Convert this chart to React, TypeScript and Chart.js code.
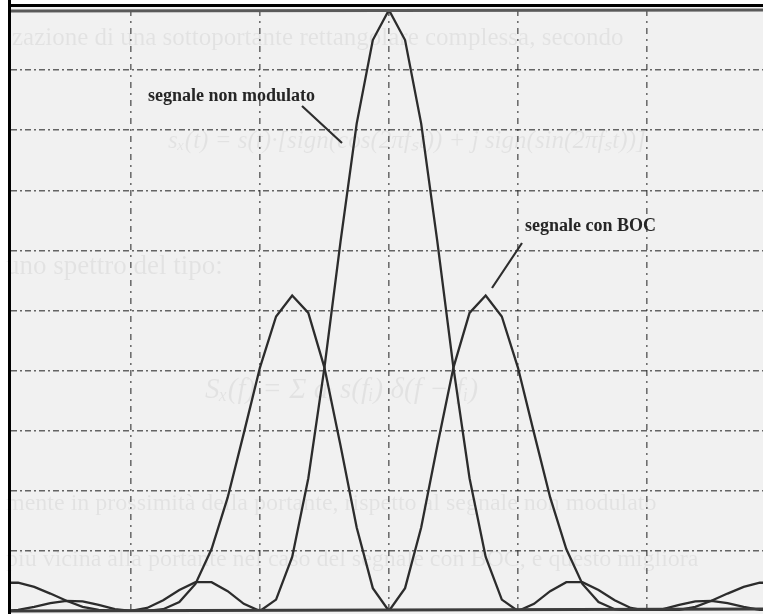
import React, { useEffect, useRef } from "react";
import { Chart, registerables } from "chart.js";

Chart.register(...registerables);

// Frequency offset (in units of the chip rate, one grid division per unit)
const freq = [
  -3, -2.875, -2.75, -2.625, -2.5, -2.375, -2.25, -2.125, -2, -1.875, -1.75, -1.625, -1.5,
  -1.375, -1.25, -1.125, -1, -0.875, -0.75, -0.625, -0.5, -0.375, -0.25, -0.125, 0,
  0.125, 0.25, 0.375, 0.5, 0.625, 0.75, 0.875, 1, 1.125, 1.25, 1.375, 1.5, 1.625, 1.75,
  1.875, 2, 2.125, 2.25, 2.375, 2.5, 2.625, 2.75, 2.875, 3,
];

// "segnale non modulato" spectrum (grid divisions)
const nonModulato = [
  0, 0.02, 0.07, 0.13, 0.17, 0.16, 0.1, 0.03, 0, 0.05, 0.18, 0.35, 0.48,
  0.48, 0.33, 0.12, 0, 0.19, 0.9, 2.21, 4.05, 6.15, 8.11, 9.5, 10,
  9.5, 8.11, 6.15, 4.05, 2.21, 0.9, 0.19, 0, 0.12, 0.33, 0.48, 0.48, 0.35, 0.18,
  0.05, 0, 0.03, 0.1, 0.16, 0.17, 0.13, 0.07, 0.02, 0,
];

// "segnale con BOC" spectrum (grid divisions)
const conBOC = [
  0.47, 0.47, 0.4, 0.29, 0.17, 0.07, 0.02, 0, 0, 0, 0.03, 0.15, 0.45,
  1.03, 1.89, 2.96, 4.05, 4.9, 5.25, 4.96, 4.05, 2.75, 1.39, 0.38, 0,
  0.38, 1.39, 2.75, 4.05, 4.96, 5.25, 4.9, 4.05, 2.96, 1.89, 1.03, 0.45, 0.15, 0.03,
  0, 0, 0, 0.02, 0.07, 0.17, 0.29, 0.4, 0.47, 0.47,
];

const labelNonModulato = "segnale non modulato";
const labelBOC = "segnale con BOC";

// faint bleed-through text of the scanned page
const bgLines = [
  { text: "zazione di una sottoportante rettangolare complessa, secondo", x: 12, y: 45, size: 25, italic: false },
  { text: "s\u2093(t) = s(t)\u00b7[sign(cos(2\u03c0f\u209bt)) + j sign(sin(2\u03c0f\u209bt))]", x: 168, y: 148, size: 25, italic: true },
  { text: "uno spettro del tipo:", x: 6, y: 274, size: 27, italic: false },
  { text: "S\u2093(f) = \u03a3 a\u1d62 s(f\u1d62) \u03b4(f \u2212 f\u1d62)", x: 205, y: 398, size: 29, italic: true },
  { text: "mente in prossimit\u00e0 della portante, rispetto al segnale non modulato", x: 6, y: 510, size: 24, italic: false },
  { text: "pi\u00f9 vicina alla portante nel caso del segnale con BOC, e questo migliora", x: 6, y: 566, size: 24, italic: false },
];

const scanPlugin = {
  id: "scan",
  beforeDraw(chart: any) {
    const ctx = chart.ctx as CanvasRenderingContext2D;
    const w = chart.width;
    const h = chart.height;
    ctx.save();
    ctx.fillStyle = "#ffffff";
    ctx.fillRect(0, 0, w, h);
    ctx.fillStyle = "#f1f1f1";
    ctx.fillRect(11, 7, w - 11, h - 7);
    ctx.fillStyle = "rgba(0,0,0,0.06)";
    bgLines.forEach((l) => {
      ctx.font = `${l.italic ? "italic " : ""}${l.size}px "Liberation Serif", serif`;
      ctx.fillText(l.text, l.x, l.y);
    });
    ctx.restore();
  },
  afterDraw(chart: any) {
    const ctx = chart.ctx as CanvasRenderingContext2D;
    const { left, right, top, bottom } = chart.chartArea;
    const w = chart.width;
    const h = chart.height;
    ctx.save();
    // chart frame top and baseline
    ctx.strokeStyle = "#5a5a5a";
    ctx.lineWidth = 3;
    ctx.beginPath();
    ctx.moveTo(left, top + 1);
    ctx.lineTo(right, top);
    ctx.stroke();
    ctx.strokeStyle = "#3c3c3c";
    ctx.beginPath();
    ctx.moveTo(left, bottom);
    ctx.lineTo(right, bottom - 2);
    ctx.stroke();
    // scan border (black)
    ctx.fillStyle = "#000";
    ctx.fillRect(8, 0, 3, h);
    ctx.fillRect(8, 4, w - 8, 3);

    // annotations
    ctx.fillStyle = "#262626";
    ctx.font = 'bold 18px "Liberation Serif", serif';
    ctx.textBaseline = "alphabetic";
    ctx.fillText(labelNonModulato, 148, 101);
    ctx.fillText(labelBOC, 525, 231);
    ctx.strokeStyle = "#2e2e2e";
    ctx.lineWidth = 2.2;
    ctx.beginPath();
    ctx.moveTo(302, 106);
    ctx.lineTo(342, 143);
    ctx.moveTo(522, 243);
    ctx.lineTo(492, 288);
    ctx.stroke();
    ctx.restore();
  },
};

const gridColor = (c: any) => {
  const v = c.tick ? c.tick.value : null;
  if (c.scale.axis === "y" && (v === 0 || v === 10)) return "rgba(0,0,0,0)";
  return c.scale.axis === "y" ? "rgba(40,40,40,0.7)" : "rgba(40,40,40,0.65)";
};

export default function App() {
  const ref = useRef<HTMLCanvasElement | null>(null);
  useEffect(() => {
    if (!ref.current) return;
    const chart = new Chart(ref.current, {
      type: "line",
      data: {
        datasets: [
          {
            label: labelNonModulato,
            data: freq.map((f, i) => ({ x: f, y: nonModulato[i] })),
            borderColor: "#2c2c2c",
            borderWidth: 2.3,
            pointRadius: 0,
            tension: 0,
            fill: false,
          },
          {
            label: labelBOC,
            data: freq.map((f, i) => ({ x: f, y: conBOC[i] })),
            borderColor: "#2c2c2c",
            borderWidth: 2.3,
            pointRadius: 0,
            tension: 0,
            fill: false,
          },
        ],
      },
      options: {
        responsive: false,
        devicePixelRatio: 1,
        animation: false,
        layout: { padding: { left: 11, top: 10, right: 0, bottom: 3 } },
        plugins: { legend: { display: false }, tooltip: { enabled: false } },
        scales: {
          x: {
            type: "linear",
            min: -2.93,
            max: 2.9,
            ticks: { display: false, stepSize: 1, includeBounds: false },
            grid: { color: gridColor, lineWidth: 1.6, drawTicks: false },
            border: { display: false, dash: [6, 5, 2, 5] },
          },
          y: {
            type: "linear",
            min: 0,
            max: 10,
            ticks: { display: false, stepSize: 1 },
            grid: { color: gridColor, lineWidth: 1.6, drawTicks: false },
            border: { display: false, dash: [6, 3, 2, 3] },
          },
        },
      },
      plugins: [scanPlugin],
    });
    return () => chart.destroy();
  }, []);
  return (
    <div style={{ position: "absolute", left: 0, top: 0, width: 763, height: 614 }}>
      <canvas ref={ref} width={763} height={614} style={{ display: "block", width: 763, height: 614 }} />
    </div>
  );
}
